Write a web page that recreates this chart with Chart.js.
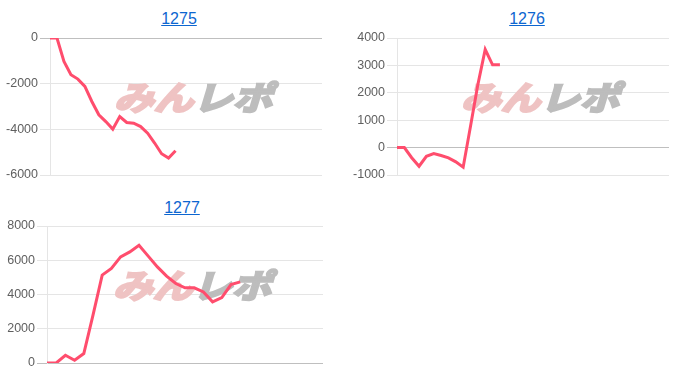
<!DOCTYPE html>
<html lang="ja">
<head>
<meta charset="utf-8">
<title>差枚グラフ</title>
<script src="https://cdn.jsdelivr.net/npm/chart.js@4.4.1/dist/chart.umd.min.js"></script>
<style>
    html, body { margin: 0; padding: 0; background: #fff; }
    body { width: 700px; height: 382px; position: relative; overflow: hidden; font-family: 'Liberation Sans', Arial, sans-serif; }
    .title { position: absolute; text-align: center; font-size: 16px; line-height: 18px; }
    .title a { color: #0d66d0; text-decoration: underline; }
    canvas { position: absolute; }
</style>
</head>
<body>
<div class="title" style="left:0;top:10px;width:358px"><a href="#">1275</a></div>
<div class="title" style="left:350px;top:10px;width:354px"><a href="#">1276</a></div>
<div class="title" style="left:0;top:199px;width:364px"><a href="#">1277</a></div>

<canvas id="chart1275" width="332" height="157" style="left:0;top:28px"></canvas>
<canvas id="chart1276" width="332" height="157" style="left:347px;top:28px"></canvas>
<canvas id="chart1277" width="333" height="157" style="left:0;top:216px"></canvas>

<script>
// hidden x labels (slot count on each chart)
const labels1275 = Array.from({ length: 40 }, (_, i) => String(i + 1));
const labels1276 = Array.from({ length: 38 }, (_, i) => String(i + 1));
const labels1277 = Array.from({ length: 31 }, (_, i) => String(i + 1));

const values1275 = [0, 0, -1030, -1610, -1800, -2120, -2780, -3360, -3660, -3990, -3440, -3700, -3730, -3880, -4170, -4600, -5070, -5260, -4940];
const values1276 = [0, 0, -370, -680, -320, -220, -290, -375, -520, -715, 780, 2300, 3580, 3020, 3020];
const values1277 = [0, 0, 450, 160, 550, 2800, 5130, 5520, 6200, 6490, 6880, 6240, 5610, 5070, 4640, 4390, 4390, 4150, 3570, 3820, 4580, 4740];

const ticks1275 = { min: -6000, max: 0, step: 2000 };
const ticks1276 = { min: -1000, max: 4000, step: 1000 };
const ticks1277 = { min: 0, max: 8000, step: 2000 };

const lineColor = '#ff4d6d';

const watermark = {
    id: 'watermark',
    beforeDatasetsDraw(chart) {
        const { ctx, chartArea } = chart;
        const cx = (chartArea.left + chartArea.right) / 2 + 11;
        const cy = (chartArea.top + chartArea.bottom) / 2 - 9;
        ctx.save();
        ctx.translate(cx, cy);
        ctx.transform(1, 0, -0.3, 1, 0, 0);
        ctx.scale(1.2, 1);
        ctx.font = 'bold 33px "Noto Sans CJK JP"';
        ctx.textBaseline = 'middle';
        ctx.lineWidth = 2.5;
        ctx.lineJoin = 'miter';
        const w1 = ctx.measureText('みん').width;
        const w2 = ctx.measureText('レポ').width;
        const x = -(w1 + w2) / 2;
        ctx.fillStyle = ctx.strokeStyle = '#efc3c3';
        ctx.fillText('みん', x, 0);
        ctx.strokeText('みん', x, 0);
        ctx.fillStyle = ctx.strokeStyle = '#bdbdbd';
        ctx.fillText('レポ', x + w1, 0);
        ctx.strokeText('レポ', x + w1, 0);
        ctx.restore();
    },
};

function makeChart(id, labels, values, range, axisWidth) {
    new Chart(document.getElementById(id), {
        type: 'line',
        data: {
            labels,
            datasets: [{ data: values, borderColor: lineColor, borderWidth: 3, pointRadius: 0, tension: 0, fill: false }],
        },
        options: {
            responsive: false,
            animation: false,
            layout: { padding: { left: 0, right: 10, top: 10, bottom: 10 } },
            plugins: { legend: { display: false }, tooltip: { enabled: false } },
            scales: {
                x: { display: false },
                y: {
                    min: range.min,
                    max: range.max,
                    afterFit: (scale) => { scale.width = axisWidth; },
                    ticks: {
                        stepSize: range.step,
                        color: '#5f5f5f',
                        padding: 2,
                        font: { family: "'Liberation Sans', Arial, sans-serif", size: 12.5 },
                        callback: (value) => String(value),
                    },
                    grid: {
                        tickLength: 10,
                        color: (c) => (c.tick && c.tick.value === 0 ? 'rgba(0,0,0,0.25)' : 'rgba(0,0,0,0.1)'),
                    },
                    border: { color: 'rgba(0,0,0,0.1)' },
                },
            },
        },
        plugins: [watermark],
    });
}

document.addEventListener('DOMContentLoaded', () => {
    makeChart('chart1275', labels1275, values1275, ticks1275, 50);
    makeChart('chart1276', labels1276, values1276, ticks1276, 50);
    makeChart('chart1277', labels1277, values1277, ticks1277, 47);
});
</script>
</body>
</html>
